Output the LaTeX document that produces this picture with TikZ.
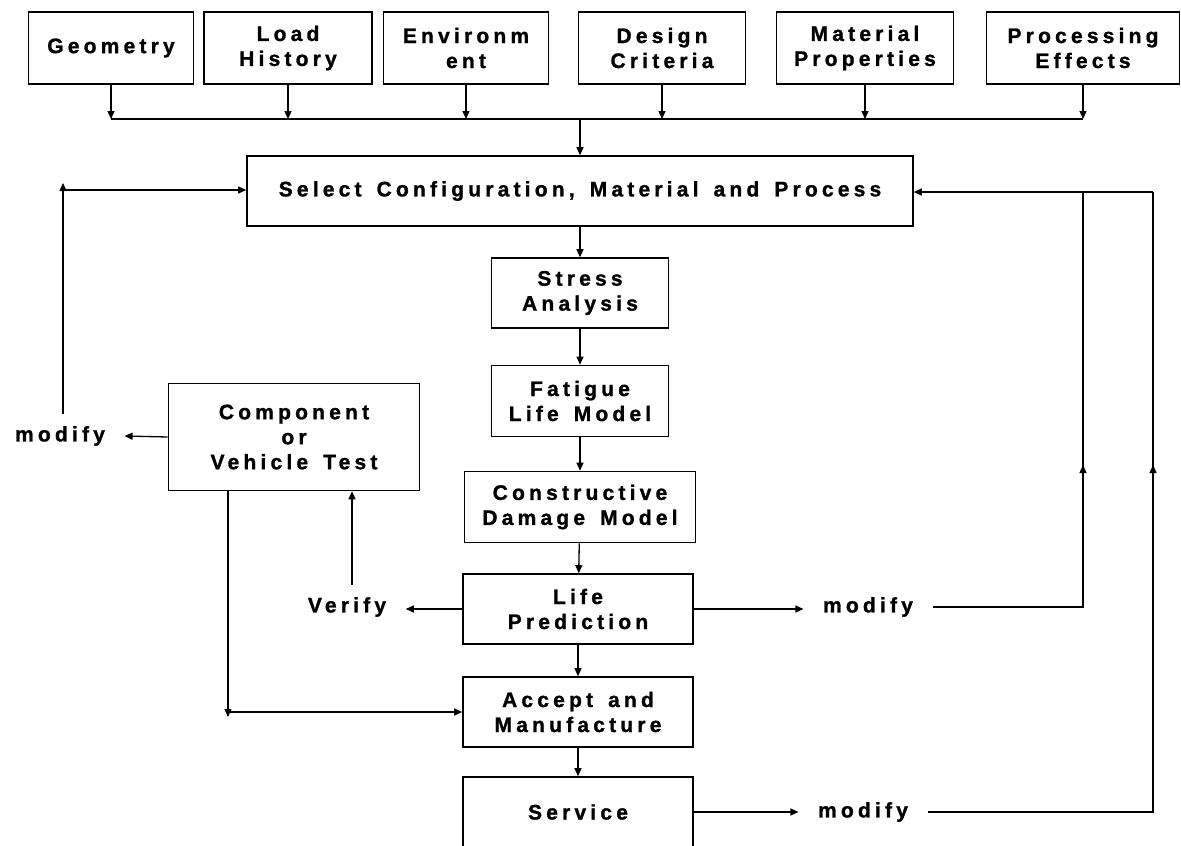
\documentclass[tikz,border=0pt]{standalone}
\usepackage{fontspec}
\newfontfamily\diafont{Liberation Sans}[LetterSpace=20,WordSpace=1.5,
  BoldFont={Liberation Sans Bold},BoldFeatures={FakeBold=1.2}]
\usetikzlibrary{arrows.meta}
\tikzset{
  box/.style={draw, line width=1.6pt, align=center, inner sep=0pt},
  lbl/.style={inner xsep=19pt, inner ysep=12pt},
  arr/.style={-{Triangle[length=8pt,width=7pt]}}
}
\begin{document}
\begin{tikzpicture}[x=1pt, y=-1pt, line width=1.3pt,
    font=\diafont\bfseries\fontsize{21}{25}\selectfont]
        \useasboundingbox (0,0) rectangle (1181,846);

        \node[box, minimum width=165pt, minimum height=72pt] (geo) at (111,48) {Geometry};
        \node[box, minimum width=168pt, minimum height=72pt] (load) at (288,48) {Load\\History};
        \node[box, minimum width=165pt, minimum height=72pt] (env) at (466,48) {Environm\\ent};
        \node[box, minimum width=167pt, minimum height=72pt] (design) at (662,48) {Design\\Criteria};
        \node[box, minimum width=177pt, minimum height=72pt] (matl) at (865,48) {Material\\Properties};
        \node[box, minimum width=193pt, minimum height=72pt] (proc) at (1083,48) {Processing\\Effects};

        \node[box, minimum width=666pt, minimum height=70pt] (select) at (580,191) {Select Configuration, Material and Process};
        \node[box, minimum width=177pt, minimum height=70pt] (stress) at (580,293) {Stress\\Analysis};
        \node[box, minimum width=177pt, minimum height=71pt] (fatigue) at (580,401) {Fatigue\\Life Model};
        \node[box, minimum width=231pt, minimum height=71pt] (constr) at (580,507) {Constructive\\Damage Model};
        \node[box, minimum width=230pt, minimum height=70pt] (life) at (578,609) {Life\\Prediction};
        \node[box, minimum width=230pt, minimum height=70pt] (accept) at (578,712) {Accept and\\Manufacture};
        \node[box, minimum width=230pt, minimum height=70pt] (service) at (578,812) {Service};
        \node[box, minimum width=251pt, minimum height=107pt] (comp) at (294,437) {Component\\or\\Vehicle Test};

        \node[lbl] (modL) at (60,436) {modify};
        \node[lbl] (verify) at (347,607) {Verify};
        \node[lbl] (modA) at (868,607) {modify};
        \node[lbl] (modB) at (863,812) {modify};

        \coordinate (bus) at (0,119);
        \coordinate (lTop) at (63,190);
        \coordinate (rA) at (1083,192);
        \coordinate (rB) at (1153,192);
        \coordinate (cB) at (228,712);
        \coordinate (vx) at (352,0);

        \foreach \b in {geo,load,env,design,matl,proc}
          \draw[arr] (\b.south) -- (\b.south |- bus);
        \draw (geo.south |- bus) -- (proc.south |- bus);
        \draw[arr] (select.north |- bus) -- (select.north);

        \draw[arr] (select) -- (stress);
        \draw[arr] (stress) -- (fatigue);
        \draw[arr] (fatigue) -- (constr);
        \draw[arr] (constr) -- (life);
        \draw[arr] (life) -- (accept);
        \draw[arr] (accept) -- (service);

        \draw[arr] (comp.west) -- (modL.east);
        \draw[arr] (modL.north -| lTop) -- ([yshift=7pt]lTop);
        \draw[arr] (lTop) -- (select.west |- lTop);

        \draw[arr] (life.west) -- (life.west -| verify.east);
        \draw[arr] (verify.north -| vx) -- (comp.south -| vx);
        \draw[arr] (comp.south -| cB) -- ([yshift=-5pt]cB);
        \draw[arr] (cB) -- (accept.west);

        \draw[arr] (life.east) -- (life.east -| modA.west);
        \draw (modA.east) -| (rA);
        \draw[arr] (modA.east -| rA) -- (rA |- 0,465);
        \draw[arr] (service.east) -- (modB.west);
        \draw (modB.east) -| (rB);
        \draw[arr] (modB.east -| rB) -- (rB |- 0,465);
        \draw[arr] (rB) -- (select.east |- rB);
\end{tikzpicture}
\end{document}
